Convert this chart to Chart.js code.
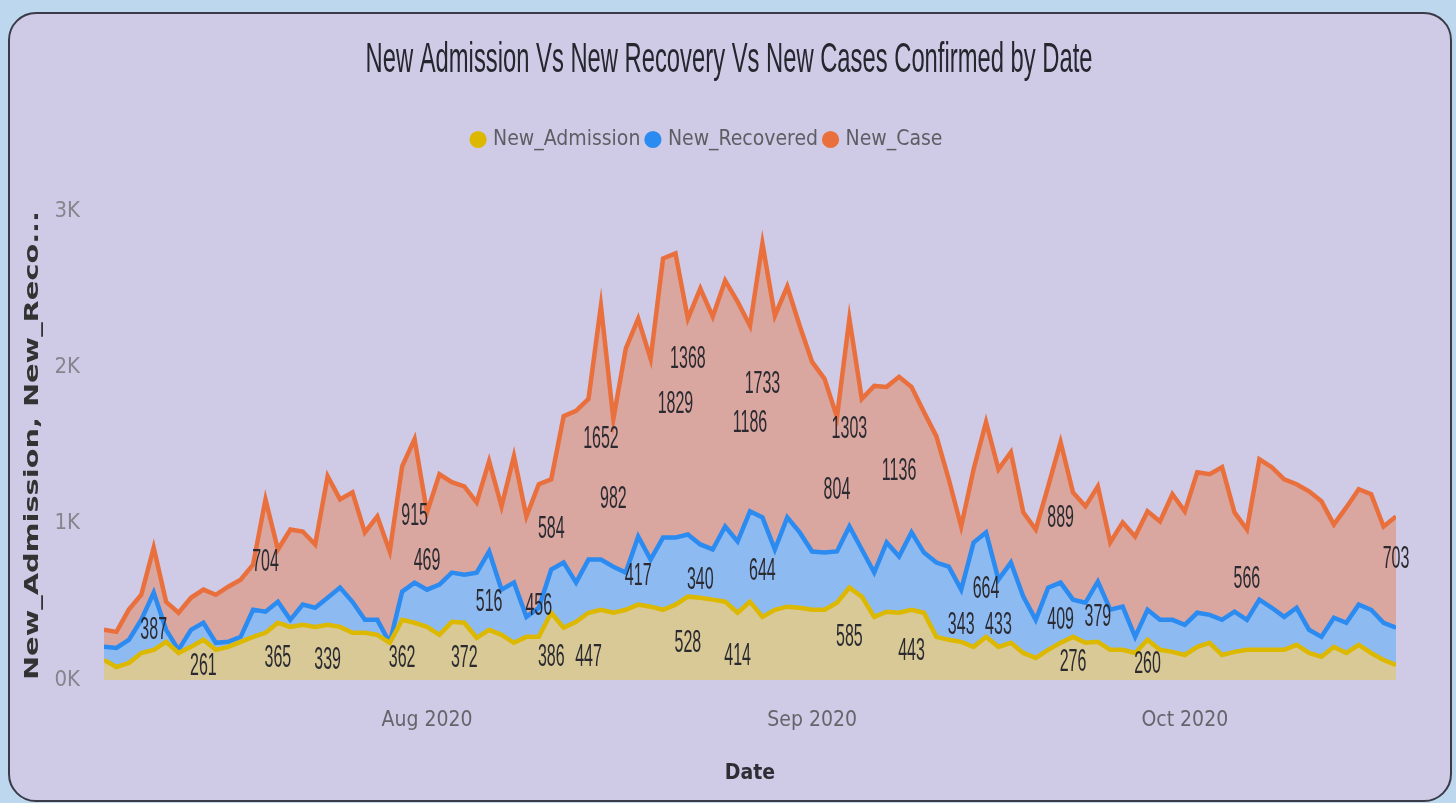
<!DOCTYPE html>
<html>
<head>
<meta charset="utf-8">
<title>New Admission Vs New Recovery Vs New Cases Confirmed by Date</title>
<script src="https://cdn.jsdelivr.net/npm/chart.js@4.4.0/dist/chart.umd.min.js"></script>
<style>
    html, body { margin: 0; padding: 0; width: 1456px; height: 803px; overflow: hidden; background: #BDD7EE; }
    .card {
        position: absolute; left: 8px; top: 12px; width: 1440px; height: 786px;
        border: 2px solid #3a3a48; border-radius: 28px; background: #CFCBE6;
    }
    #wrap { position: absolute; left: 0; top: 0; width: 1456px; height: 803px; }
</style>
</head>
<body>
<div class="card"></div>
<div id="wrap"><canvas id="covid-chart" width="1456" height="803"></canvas></div>
<script>
// Daily series, 6 Jul 2020 .. 18 Oct 2020 (105 days)
const START_DATE = new Date(2020, 6, 6);
const DAY_COUNT = 105;

const newAdmission = [
    128, 83, 109, 173, 193, 244, 173, 212, 257, 193,
    212, 244, 276, 302, 366, 340, 353, 340, 353, 340,
    302, 302, 289, 238, 385, 366, 340, 289, 372, 366,
    270, 321, 289, 238, 276, 276, 430, 334, 372, 430,
    449, 430, 449, 482, 469, 449, 482, 533, 526, 514,
    501, 430, 501, 404, 449, 469, 462, 449, 449, 494,
    591, 533, 404, 437, 430, 449, 430, 276, 257, 244,
    212, 276, 212, 238, 173, 141, 193, 238, 276, 238,
    244, 193, 193, 173, 257, 193, 180, 160, 212, 238,
    160, 180, 193, 193, 193, 193, 225, 173, 148, 212,
    173, 225, 173, 128, 96
];

const newRecovered = [
    212, 205, 257, 385, 559, 321, 193, 321, 366, 238,
    244, 276, 449, 437, 501, 385, 482, 462, 526, 591,
    500, 385, 385, 238, 565, 623, 578, 610, 687, 674,
    687, 822, 578, 623, 404, 462, 706, 751, 623, 770,
    770, 725, 687, 918, 770, 911, 911, 931, 867, 835,
    982, 886, 1079, 1040, 835, 1040, 944, 822, 815, 822,
    982, 835, 687, 880, 790, 944, 815, 751, 725, 578,
    880, 944, 642, 751, 533, 385, 591, 623, 514, 494,
    629, 450, 469, 276, 449, 385, 385, 353, 430, 417,
    385, 437, 385, 514, 462, 404, 462, 321, 276, 398,
    366, 482, 449, 366, 334
];

const newCase = [
    321, 308, 450, 545, 847, 500, 430, 526, 578, 545,
    597, 642, 738, 1155, 835, 963, 950, 867, 1303, 1155,
    1200, 944, 1046, 822, 1367, 1541, 1072, 1316, 1265, 1239,
    1136, 1400, 1111, 1432, 1046, 1252, 1284, 1688, 1721, 1798,
    2395, 1669, 2119, 2311, 2054, 2696, 2729, 2311, 2504, 2324,
    2555, 2420, 2266, 2793, 2330, 2517, 2266, 2035, 1926, 1682,
    2311, 1798, 1881, 1875, 1939, 1875, 1714, 1560, 1284, 982,
    1348, 1650, 1348, 1457, 1072, 963, 1239, 1522, 1200, 1111,
    1239, 880, 1008, 918, 1079, 1014, 1188, 1079, 1329, 1316,
    1361, 1072, 963, 1412, 1361, 1284, 1252, 1207, 1143, 995,
    1104, 1220, 1188, 982, 1046
];

// Data labels shown in the visual: day index, text, and the value level they sit at
const labelDay  = [4, 8, 13, 14, 18, 25, 26, 24, 31, 29, 36, 35, 36, 39, 40, 41, 43, 47, 46, 48,
                   47, 51, 53, 52, 53, 60, 59, 60, 64, 65, 69, 71, 72, 77, 77, 80, 78, 84, 92, 104];
const labelText = ['387', '261', '704', '365', '339', '915', '469', '362', '516', '372',
                   '584', '456', '386', '447', '1652', '982', '417', '1368', '1829', '340',
                   '528', '414', '1733', '1186', '644', '1303', '804', '585', '1136', '443',
                   '343', '664', '433', '889', '409', '379', '276', '260', '566', '703'];
const labelAt   = [321, 90, 751, 141, 128, 1046, 758, 141, 501, 141,
                   963, 475, 148, 148, 1541, 1156, 661, 2054, 1766, 636,
                   238, 154, 1894, 1644, 693, 1605, 1213, 276, 1335, 186,
                   353, 578, 353, 1034, 385, 404, 116, 103, 642, 770];

// Axis ticks
const xTickDays   = [26, 57, 87];
const xTickLabels = ['Aug 2020', 'Sep 2020', 'Oct 2020'];
const yTicks      = [0, 1000, 2000, 3000];
const yTickLabels = ['0K', '1K', '2K', '3K'];

const seriesNames = ['New_Admission', 'New_Recovered', 'New_Case'];
const lineColors  = ['#DDB800', '#2B8BF0', '#E9703C'];
const fillColors  = ['rgb(216,201,150)', 'rgb(142,186,242)', 'rgb(217,166,160)'];

const CHART_TITLE = 'New Admission Vs New Recovery Vs New Cases Confirmed by Date';
const Y_TITLE = 'New_Admission, New_Reco...';
const X_TITLE = 'Date';

const NARROW = '"DejaVu Sans Condensed", "Liberation Sans Narrow", sans-serif';

// date labels for tooltips
const dates = [];
for (let i = 0; i < DAY_COUNT; i++) {
    const d = new Date(START_DATE);
    d.setDate(d.getDate() + i);
    dates.push(d.toDateString());
}

// draws text squeezed/stretched so it fills a given width
function drawFitted(ctx, text, cx, cy, width, angle) {
    const w = ctx.measureText(text).width;
    ctx.save();
    ctx.translate(cx, cy);
    if (angle) ctx.rotate(angle);
    ctx.scale(width / w, 1);
    ctx.fillText(text, 0, 0);
    ctx.restore();
}

/**
 * Leaves room under the legend, like the Power BI visual does
 */
const legendSpacing = {
    id: 'legendSpacing',
    beforeInit(chart) {
        const originalFit = chart.legend.fit;
        chart.legend.fit = function fit() {
            originalFit.bind(chart.legend)();
            this.height += 51;
        };
    }
};

/**
 * Draws the title, data labels and the y-axis title
 */
const labelPlugin = {
    id: 'labelPlugin',
    afterDatasetsDraw(chart) {
        const { ctx, scales: { x, y } } = chart;
        ctx.save();
        ctx.fillStyle = '#2a2a30';
        ctx.font = '32px "Liberation Sans", sans-serif';
        ctx.textAlign = 'center';
        ctx.textBaseline = 'middle';
        labelText.forEach((t, i) => {
            ctx.save();
            ctx.translate(x.getPixelForValue(labelDay[i]), y.getPixelForValue(labelAt[i]));
            ctx.scale(0.5, 1);
            ctx.fillText(t, 0, 0);
            ctx.restore();
        });
        ctx.restore();
    },
    afterDraw(chart) {
        const { ctx, chartArea } = chart;
        ctx.save();
        ctx.textAlign = 'center';
        ctx.textBaseline = 'middle';

        // chart title
        ctx.fillStyle = '#26262f';
        ctx.font = '42px "Liberation Sans", sans-serif';
        drawFitted(ctx, CHART_TITLE, chart.width / 2 + 1, 60, 727, 0);

        // y-axis title
        ctx.fillStyle = '#333';
        ctx.font = 'bold 20px "DejaVu Sans", sans-serif';
        drawFitted(ctx, Y_TITLE, 33, (chartArea.top + chartArea.bottom) / 2,
                   chartArea.bottom - chartArea.top, -Math.PI / 2);
        ctx.restore();
    }
};

const seriesData = [newAdmission, newRecovered, newCase];
const datasets = seriesNames.map((name, i) => ({
    label: name,
    data: seriesData[i].map((v, k) => ({ x: k, y: v })),
    borderColor: lineColors[i],
    backgroundColor: fillColors[i],
    pointBackgroundColor: lineColors[i],
    borderWidth: 4.5,
    pointRadius: 0,
    fill: 'origin',
    tension: 0
}));

new Chart(document.getElementById('covid-chart').getContext('2d'), {
    type: 'line',
    data: { datasets: datasets },
    plugins: [legendSpacing, labelPlugin],
    options: {
        responsive: false,
        animation: false,
        devicePixelRatio: 1,
        layout: { padding: { top: 121, left: 20, right: 60, bottom: 10 } },
        plugins: {
            title: { display: false, text: CHART_TITLE },
            legend: {
                display: true,
                position: 'top',
                labels: {
                    usePointStyle: true,
                    pointStyle: 'circle',
                    boxWidth: 9,
                    boxHeight: 9,
                    padding: 8,
                    color: '#5f5d64',
                    font: { family: NARROW, size: 21 }
                }
            },
            tooltip: {
                mode: 'index',
                intersect: false,
                callbacks: {
                    title: items => dates[items[0].parsed.x]
                }
            }
        },
        scales: {
            x: {
                type: 'linear',
                min: 0,
                max: DAY_COUNT - 1,
                afterBuildTicks: scale => {
                    scale.ticks = xTickDays.map(v => ({ value: v }));
                },
                afterFit: scale => { scale.height = 113; },
                grid: { display: false, drawTicks: false },
                border: { display: false },
                ticks: {
                    autoSkip: false,
                    maxRotation: 0,
                    padding: 28,
                    color: '#66646b',
                    font: { family: NARROW, size: 21 },
                    callback: v => xTickLabels[xTickDays.indexOf(v)]
                },
                title: {
                    display: true,
                    text: X_TITLE,
                    color: '#2e2e34',
                    font: { family: NARROW, size: 21, weight: 'bold' },
                    padding: { top: 0, bottom: 7 }
                }
            },
            y: {
                min: 0,
                max: 3000,
                afterBuildTicks: scale => {
                    scale.ticks = yTicks.map(v => ({ value: v }));
                },
                afterFit: scale => { scale.width = 84; },
                grid: { display: false, drawTicks: false },
                border: { display: false },
                ticks: {
                    padding: 24,
                    color: '#86848c',
                    font: { family: NARROW, size: 22 },
                    callback: v => yTickLabels[yTicks.indexOf(v)]
                }
            }
        }
    }
});
</script>
</body>
</html>
